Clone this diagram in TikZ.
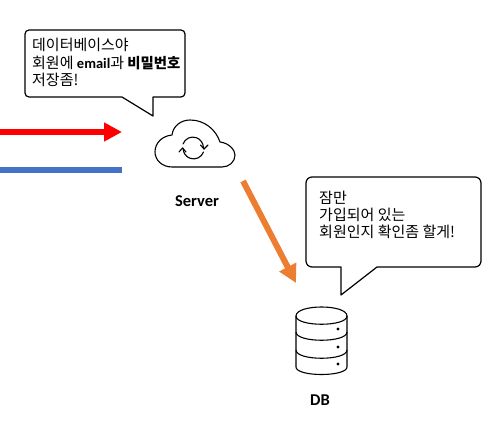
\documentclass[tikz,border=0pt]{standalone}
\usepackage{fontspec}
\setmainfont{Noto Sans CJK KR}
\newfontfamily\labelfont{Carlito}[BoldFont={* Bold}]
\usetikzlibrary{arrows.meta}
\definecolor{myblue}{HTML}{4472C4}
\definecolor{myorange}{HTML}{ED7D31}
\tikzset{
  bubble/.style={draw=black,line width=1.2pt,fill=white,line join=round},
  say/.style={anchor=north west,align=left,inner sep=0pt,font=\fontsize{15}{17.4}\selectfont},
  iconlabel/.style={font=\labelfont\bfseries\fontsize{16.5}{18}\selectfont,inner sep=0pt},
  icon/.style={draw=black,line width=1.1pt,line join=round,fill=white},
  refresh/.style={draw=black,line width=1.1pt,line join=round,line cap=round},
}
\begin{document}
\begin{tikzpicture}[x=1pt,y=-1pt]
\useasboundingbox (0,0) rectangle (491,425);
% arrows
\coordinate (r0) at (0,132); \coordinate (r1) at (122,132);
\draw[red,line width=6pt,-{Triangle[length=18pt,width=18pt]}] (r0) -- (r1);
\coordinate (b0) at (0,170); \coordinate (b1) at (122,170);
\draw[myblue,line width=6pt] (b0) -- (b1);
\coordinate (o0) at (243,181); \coordinate (o1) at (296,283);
\draw[myorange,line width=6pt,-{Triangle[length=18pt,width=18pt]}] (o0) -- (o1);
% bubble 1
\draw[bubble] (29,30) -- (181,30) arc[start angle=-90,end angle=0,radius=4] -- (185,93) arc[start angle=0,end angle=90,radius=4] -- (153,97) -- (153,116) -- (122,97) -- (29,97) arc[start angle=90,end angle=180,radius=4] -- (25,34) arc[start angle=180,end angle=270,radius=4] -- cycle;
\node[say] (t1) at (32,38) {데이터베이스야\\회원에 {\labelfont\bfseries\fontsize{14.5}{17.4}\selectfont email}과 {\bfseries\fontsize{14.4}{17.4}\selectfont 비밀번호}\\저장좀!};
% bubble 2
\draw[bubble] (312,177) -- (475,177) arc[start angle=-90,end angle=0,radius=6] -- (481,261) arc[start angle=0,end angle=90,radius=6] -- (377,267) -- (341,295) -- (341,267) -- (312,267) arc[start angle=90,end angle=180,radius=6] -- (306,183) arc[start angle=180,end angle=270,radius=6] -- cycle;
\node[say] (t2) at (319,190.5) {잠만\\가입되어 있는\\회원인지 확인좀 할게!};
% cloud
\draw[icon] (172,167) .. controls (162,167) and (155,160) .. (155,152) .. controls (155,143) and (162,136) .. (172,135) .. controls (173,126) and (181,120) .. (190,120) .. controls (205,120) and (216,130) .. (220,142) .. controls (229,143) and (235,150) .. (235,155) .. controls (235,162) and (229,167) .. (222,167) -- cycle;
\coordinate (tipr) at (204,149); \coordinate (tipl) at (182.5,148);
\draw[refresh] (183,144) arc[start angle=200,end angle=360,radius=10.5] -- (tipr);
\draw[refresh] (200.5,145) -- (tipr) -- (208,145);
\draw[refresh] (203.5,152) arc[start angle=20,end angle=180,radius=10.5] -- (tipl);
\draw[refresh] (179,152) -- (tipl) -- (186,152);
\node[iconlabel] (server) at (197,201) {Server};
% db
\draw[icon] (296,316) .. controls (296,304) and (347,304) .. (347,316) -- (347,367) .. controls (347,377) and (296,377) .. (296,367) -- cycle;
\draw[icon,fill=none] (296,316) .. controls (296,327) and (347,327) .. (347,316);
\draw[icon,fill=none] (296,332) .. controls (296,343) and (347,343) .. (347,332);
\draw[icon,fill=none] (296,350) .. controls (296,361) and (347,361) .. (347,350);
\fill (338,329) circle (1.6) (338,347) circle (1.6) (338,364) circle (1.6);
\node[iconlabel] (db) at (320,400) {DB};
\end{tikzpicture}
\end{document}
